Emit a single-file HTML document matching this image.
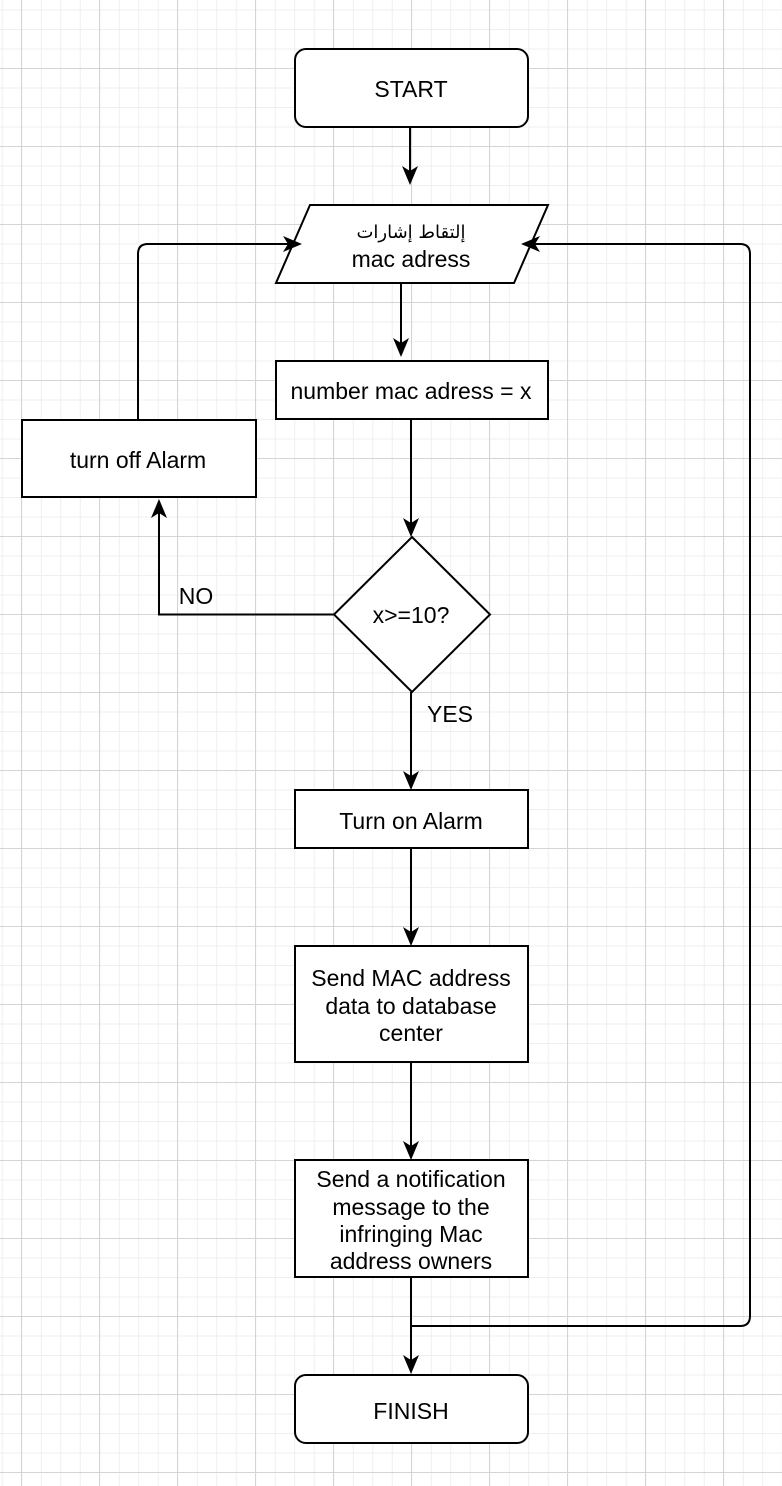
<!DOCTYPE html>
<html><head><style>
html,body{margin:0;padding:0;background:#fff;}
svg{display:block;}
text{font-family:"Liberation Sans","DejaVu Sans",sans-serif;font-size:23px;fill:#000;}
</style></head><body>
<svg width="782" height="1486" viewBox="0 0 782 1486" xmlns="http://www.w3.org/2000/svg">
<defs>
<pattern id="minor" x="1.75" y="9.5" width="19.5" height="19.5" patternUnits="userSpaceOnUse">
<path d="M0.5 0V19.5M0 0.5H19.5" stroke="#efefef" stroke-width="1" fill="none"/>
</pattern>
<pattern id="major" x="21" y="68" width="78" height="78" patternUnits="userSpaceOnUse">
<path d="M0.5 0V78M0 0.5H78" stroke="#d4d4d4" stroke-width="1" fill="none"/>
</pattern>
</defs>
<rect width="782" height="1486" fill="url(#minor)"/>
<rect width="782" height="1486" fill="url(#major)"/>
<g stroke="#000" stroke-width="2" fill="#fff">
<rect x="295" y="49" width="233" height="78" rx="11"/>
<path d="M310 205H548L514 283H276Z"/>
<rect x="276" y="361" width="272" height="58"/>
<rect x="22" y="420" width="234" height="77"/>
<path d="M412 537L490 614.5L412 692L334 614.5Z"/>
<rect x="295" y="790" width="233" height="58"/>
<rect x="295" y="946" width="233" height="116"/>
<rect x="295" y="1160" width="233" height="117"/>
<rect x="295" y="1375" width="233" height="68" rx="11"/>
</g>
<g stroke="#000" stroke-width="2" fill="none">
<path d="M410 127V178"/><path d="M401 283V350"/><path d="M411 419V530"/>
<path d="M334 614.5H159V506"/>
<path d="M138 420V254Q138 244 148 244H293"/>
<path d="M411 692V783"/><path d="M411 848V939"/><path d="M411 1062V1153"/>
<path d="M411 1277V1367"/>
<path d="M411 1326H740Q750 1326 750 1316V254Q750 244 740 244H530"/>
</g>
<g fill="#000">
<path d="M410 185L402 166L410 171L418 166Z"/>
<path d="M401 357L393 338L401 343L409 338Z"/>
<path d="M411 537L403 518L411 523L419 518Z"/>
<path d="M159 499L151 518L159 513L167 518Z"/>
<path d="M302 244L283 236L288 244L283 252Z"/>
<path d="M411 790L403 771L411 776L419 771Z"/>
<path d="M411 946L403 927L411 932L419 927Z"/>
<path d="M411 1160L403 1141L411 1146L419 1141Z"/>
<path d="M411 1374L403 1355L411 1360L419 1355Z"/>
<path d="M521 244L540 236L535 244L540 252Z"/>
</g>
<g text-anchor="middle">
<text x="411" y="97">START</text>
<text x="411" y="238" style="font-family:'DejaVu Sans',sans-serif;font-size:18px" direction="rtl">إلتقاط إشارات</text>
<text x="411" y="267">mac adress</text>
<text x="411" y="399">number mac adress = x</text>
<text x="138" y="468">turn off Alarm</text>
<text x="411" y="623">x&gt;=10?</text>
<text x="196" y="604">NO</text>
<text x="450" y="722">YES</text>
<text x="411" y="829">Turn on Alarm</text>
<text x="411" y="986">Send MAC address</text>
<text x="411" y="1014">data to database</text>
<text x="411" y="1041">center</text>
<text x="411" y="1187">Send a notification</text>
<text x="411" y="1215">message to the</text>
<text x="411" y="1242">infringing Mac</text>
<text x="411" y="1269">address owners</text>
<text x="411" y="1419">FINISH</text>
</g>
</svg>
</body></html>
